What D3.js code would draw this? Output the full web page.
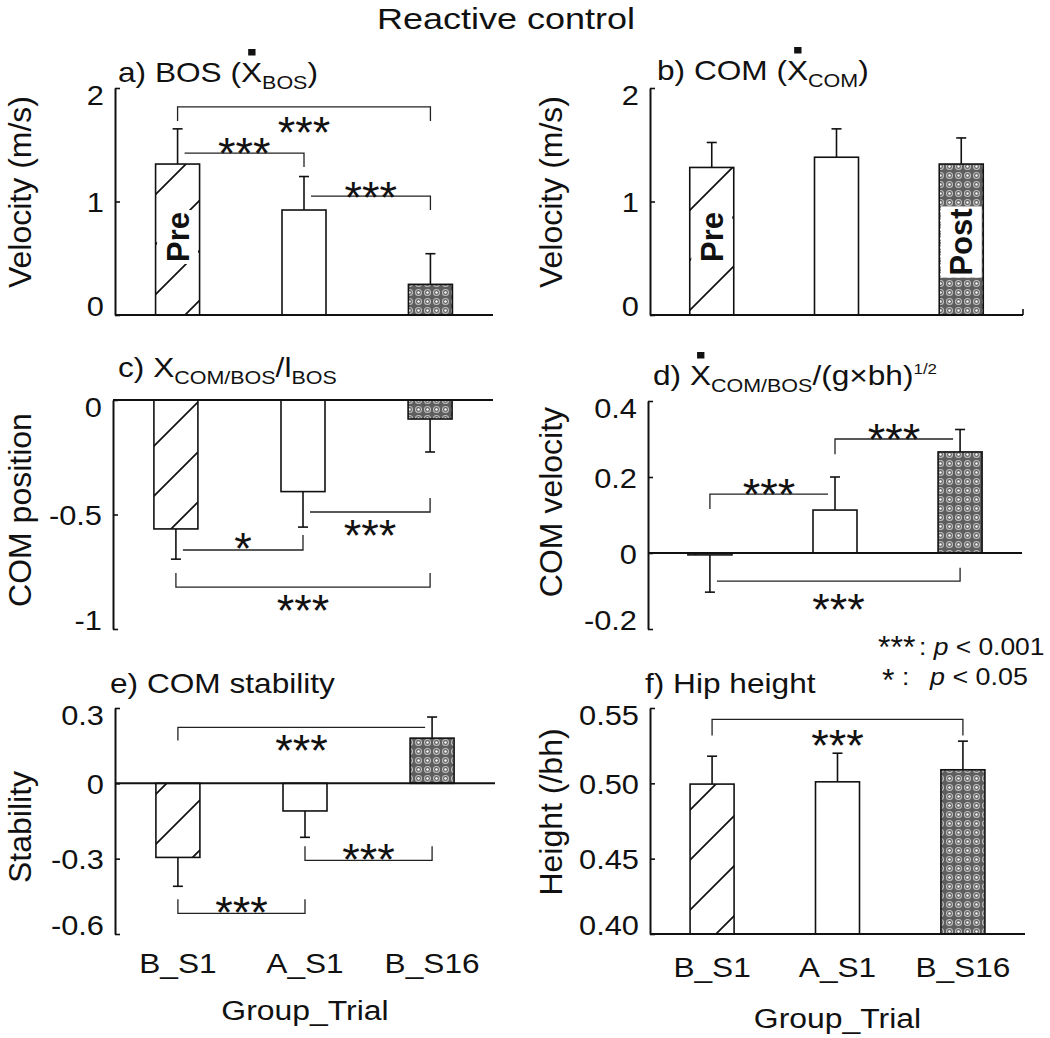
<!DOCTYPE html>
<html><head><meta charset="utf-8">
<script src="https://cdn.jsdelivr.net/npm/d3@7"></script>
<style>
body{margin:0;background:#fff}
svg{display:block}
text{font-family:"Liberation Sans",Arial,Helvetica,sans-serif;fill:#111}
</style>
</head><body>
<svg id="chart" width="1050" height="1038"></svg>
<script>
// ---------------- data ----------------
const categories = ["B_S1", "A_S1", "B_S16"];

const bosVelMean = [1.33, 0.925, 0.27];
const bosVelSD   = [0.31, 0.295, 0.27];
const comVelMean = [1.30, 1.39, 1.33];
const comVelSD   = [0.22, 0.25, 0.23];
const comPosMean = [-0.563, -0.40, -0.083];
const comPosSD   = [0.132, 0.155, 0.144];
const relVelMean = [-0.005, 0.113, 0.266];
const relVelSD   = [0.098, 0.087, 0.059];
const stabMean   = [-0.295, -0.11, 0.18];
const stabSD     = [0.115, 0.105, 0.084];
const hipMean    = [0.4995, 0.501, 0.509];
const hipSD      = [0.0185, 0.019, 0.019];

const ticksVel   = [0, 1, 2];
const ticksVelLb = ["0", "1", "2"];
const ticksPos   = [-1, -0.5, 0];
const ticksPosLb = ["-1", "-0.5", "0"];
const ticksRel   = [-0.2, 0, 0.2, 0.4];
const ticksRelLb = ["-0.2", "0", "0.2", "0.4"];
const ticksStab  = [-0.6, -0.3, 0, 0.3];
const ticksStabLb= ["-0.6", "-0.3", "0", "0.3"];
const ticksHip   = [0.40, 0.45, 0.50, 0.55];
const ticksHipLb = ["0.40", "0.45", "0.50", "0.55"];

// brackets: [fromIdx, toIdx, level, leftEnd, rightEnd, label, labelCenterValue]
const bracketsA = [[0, 2, 1.833, 1.71, 1.71, "***", 1.70],
                   [0, 1, 1.427, 1.427, 1.304, "***", 1.515],
                   [1, 2, 1.048, 1.048, 0.925, "***", 1.128]];
const bracketsB = [];
const bracketsC = [[0, 1, -0.655, -0.655, -0.59, "*", -0.603],
                   [1, 2, -0.489, -0.489, -0.428, "***", -0.546],
                   [0, 2, -0.817, -0.755, -0.755, "***", -0.873]];
const bracketsD = [[0, 1, 0.155, 0.116, 0.155, "***", 0.182],
                   [1, 2, 0.30, 0.26, 0.30, "***", 0.326],
                   [0, 2, -0.074, -0.074, -0.039, "***", -0.121]];
const bracketsE = [[0, 2, 0.223, 0.171, 0.223, "***", 0.171],
                   [1, 2, -0.307, -0.251, -0.251, "***", -0.263],
                   [0, 1, -0.518, -0.462, -0.462, "***", -0.474]];
const bracketsF = [[0, 2, 0.5424, 0.5318, 0.5318, "***", 0.5318]];

const barTextA = ["Pre", null, null];
const barTextB = ["Pre", null, "Post"];
const barTextPosA = [0.687, null, null];
const barTextPosB = [0.687, null, 0.643];

// ---------------- drawing ----------------
const svg = d3.select("#chart");
const defs = svg.append("defs");

const hatch = defs.append("pattern").attr("id", "hatch")
  .attr("patternUnits", "userSpaceOnUse").attr("width", 50).attr("height", 50);
hatch.append("rect").attr("width", 50).attr("height", 50).attr("fill", "#fff");
hatch.append("path").attr("d", "M0,50 L50,0 M-5,5 L5,-5 M45,55 L55,45")
  .attr("stroke", "#111").attr("stroke-width", 1.7);

const dots = defs.append("pattern").attr("id", "dots")
  .attr("patternUnits", "userSpaceOnUse").attr("width", 9).attr("height", 9);
dots.append("rect").attr("width", 9).attr("height", 9).attr("fill", "#5e5e5e");
dots.append("circle").attr("cx", 4.5).attr("cy", 4.5).attr("r", 3)
  .attr("fill", "none").attr("stroke", "#bdbdbd").attr("stroke-width", 1.1);
dots.append("circle").attr("cx", 4.5).attr("cy", 4.5).attr("r", 1.2).attr("fill", "#fff");

const barFills = ["url(#hatch)", "#fff", "url(#dots)"];

function richText(parent, x, y, segs, size, sx) {
  const g = parent.append("g").attr("transform", `translate(${x},${y}) scale(${sx},1)`);
  const t = g.append("text").attr("x", 0).attr("y", 0).attr("font-size", size);
  let shift = 0, idx = 0; const dotIdx = [];
  segs.forEach(s => {
    let target = s.sub ? 7 : (s.sup ? -11 : 0);
    const ts = t.append("tspan").text(s.t).attr("dy", target - shift);
    shift = target;
    if (s.sub || s.sup) ts.attr("font-size", s.sup ? 15 : 19);
    if (s.italic) ts.attr("font-style", "italic");
    if (s.dot) dotIdx.push(idx);
    idx += s.t.length;
  });
  const node = t.node();
  dotIdx.forEach(i => {
    const a = node.getStartPositionOfChar(i).x, b = node.getEndPositionOfChar(i).x;
    g.append("rect").attr("x", (a + b) / 2 - 3).attr("y", -33).attr("width", 6.5).attr("height", 6.5).attr("fill", "#111");
  });
  return g;
}

const panels = [
  {means: bosVelMean, sds: bosVelSD, domain: [0, 2], base: 0, x0: 115, x1: 493, yTop: 88, yBot: 315,
   ticks: ticksVel, tickLb: ticksVelLb, brackets: bracketsA, barText: barTextA, barTextPos: barTextPosA,
   title: [{t: "a) BOS ("}, {t: "X", dot: true}, {t: "BOS", sub: true}, {t: ")"}], tx: 118, ty: 82,
   ylab: "Velocity (m/s)", ylx: 31, yly: 192},
  {means: comVelMean, sds: comVelSD, domain: [0, 2], base: 0, x0: 650, x1: 1023, yTop: 88, yBot: 315,
   ticks: ticksVel, tickLb: ticksVelLb, brackets: bracketsB, barText: barTextB, barTextPos: barTextPosB,
   title: [{t: "b) COM ("}, {t: "X", dot: true}, {t: "COM", sub: true}, {t: ")"}], tx: 657, ty: 80,
   ylab: "Velocity (m/s)", ylx: 562, yly: 192, endTick: true},
  {means: comPosMean, sds: comPosSD, domain: [-1, 0], base: 0, x0: 113, x1: 493, yTop: 400, yBot: 629,
   ticks: ticksPos, tickLb: ticksPosLb, brackets: bracketsC,
   title: [{t: "c) X"}, {t: "COM/BOS", sub: true}, {t: "/l"}, {t: "BOS", sub: true}], tx: 118, ty: 377,
   ylab: "COM position", ylx: 31, yly: 510},
  {means: relVelMean, sds: relVelSD, domain: [-0.2, 0.4], base: 0, x0: 648, x1: 1022, yTop: 401, yBot: 629,
   ticks: ticksRel, tickLb: ticksRelLb, brackets: bracketsD,
   title: [{t: "d) "}, {t: "X", dot: true}, {t: "COM/BOS", sub: true}, {t: "/(g×bh)"}, {t: "1/2", sup: true}], tx: 653, ty: 385,
   ylab: "COM velocity", ylx: 562, yly: 502},
  {means: stabMean, sds: stabSD, domain: [-0.6, 0.3], base: 0, x0: 115, x1: 495, yTop: 708, yBot: 934,
   ticks: ticksStab, tickLb: ticksStabLb, brackets: bracketsE,
   title: [{t: "e) COM stability"}], tx: 110, ty: 693,
   ylab: "Stability", ylx: 31, yly: 827, xlabels: true, xly: 973, gly: 1020},
  {means: hipMean, sds: hipSD, domain: [0.40, 0.55], base: 0.40, x0: 650, x1: 1025, yTop: 708, yBot: 934,
   ticks: ticksHip, tickLb: ticksHipLb, brackets: bracketsF,
   title: [{t: "f) Hip height"}], tx: 645, ty: 693,
   ylab: "Height (/bh)", ylx: 562, yly: 812, xlabels: true, xly: 977, gly: 1028}
];

const BW = 44;

panels.forEach(p => {
  const g = svg.append("g");
  const y = d3.scaleLinear().domain(p.domain).range([p.yBot, p.yTop]);
  const x = d3.scalePoint().domain(categories).range([p.x0, p.x1]).padding(0.495);
  const cx = i => x(categories[i]);

  // bars
  g.selectAll("rect.bar").data(p.means).join("rect").attr("class", "bar")
    .attr("x", (d, i) => cx(i) - BW / 2)
    .attr("y", d => Math.min(y(d), y(p.base)))
    .attr("width", BW)
    .attr("height", d => Math.max(1.5, Math.abs(y(d) - y(p.base))))
    .attr("fill", (d, i) => barFills[i])
    .attr("stroke", "#111").attr("stroke-width", 1.6);

  // in-bar labels
  if (p.barText) {
    p.barText.forEach((t, i) => {
      if (!t) return;
      const lg = g.append("g").attr("transform", `translate(${cx(i)},${y(p.barTextPos[i])}) rotate(-90)`);
      const rect = lg.append("rect").attr("fill", "#fff");
      const tx = lg.append("text").attr("text-anchor", "middle").attr("y", 11)
        .attr("font-size", 31).attr("font-weight", "bold").text(t);
      const w = tx.node().getComputedTextLength();
      rect.attr("x", -w / 2 - 2).attr("width", w + 4).attr("y", -BW / 2 + 1.5).attr("height", BW - 3);
    });
  }

  // error bars
  const eb = g.append("g").attr("stroke", "#111").attr("stroke-width", 1.6);
  p.means.forEach((m, i) => {
    const dir = m < p.base ? -1 : 1;
    const e = m + dir * p.sds[i];
    eb.append("line").attr("x1", cx(i)).attr("x2", cx(i)).attr("y1", y(m)).attr("y2", y(e));
    eb.append("line").attr("x1", cx(i) - 5).attr("x2", cx(i) + 5).attr("y1", y(e)).attr("y2", y(e));
  });

  // baseline line
  g.append("line").attr("x1", p.x0).attr("x2", p.x1).attr("y1", y(p.base)).attr("y2", y(p.base))
    .attr("stroke", "#111").attr("stroke-width", 2);
  if (p.endTick) {
    g.append("line").attr("x1", p.x1).attr("x2", p.x1).attr("y1", y(p.base)).attr("y2", y(p.base) - 6)
      .attr("stroke", "#111").attr("stroke-width", 1.6);
  }

  // y axis
  const ax = g.append("g").attr("transform", `translate(${p.x0},0)`)
    .call(d3.axisLeft(y).tickValues(p.ticks).tickSizeInner(-5).tickSizeOuter(0).tickPadding(10)
      .tickFormat((d, i) => p.tickLb[i]));
  ax.attr("font-size", null).attr("font-family", null);
  ax.select(".domain").attr("stroke", "#111").attr("stroke-width", 2);
  ax.selectAll(".tick line").attr("stroke", "#111").attr("stroke-width", 1.6);
  ax.selectAll(".tick text").each(function (d) {
    let c = y(d);
    c = Math.max(c, p.yTop - 4 + 10);
    c = Math.min(c, p.yBot - 10);
    d3.select(this).attr("x", 0).attr("dy", null).attr("y", c - y(d) + 10)
      .attr("font-size", 28).attr("fill", "#111")
      .attr("transform", "translate(-11,0) scale(1.1,1)");
  });

  // brackets
  const bg = g.append("g");
  p.brackets.forEach(b => {
    const [f, t, lev, le, re, lab, ly] = b;
    const xl = cx(f) + (le === lev ? 7 : 0);
    const xr = cx(t) - (re === lev ? 7 : 0);
    bg.append("path").attr("d", `M${xl},${y(le)} L${xl},${y(lev)} L${xr},${y(lev)} L${xr},${y(re)}`)
      .attr("fill", "none").attr("stroke", "#222").attr("stroke-width", 1.3);
    bg.append("text").attr("x", (xl + xr) / 2).attr("y", y(ly) + 26)
      .attr("text-anchor", "middle").attr("font-size", 45).text(lab);
  });

  // title
  richText(svg, p.tx, p.ty, p.title, 28, 1.13);

  // y label
  svg.append("text").attr("transform", `translate(${p.ylx},${p.yly}) rotate(-90)`)
    .attr("text-anchor", "middle").attr("font-size", 32).text(p.ylab);

  // x labels
  if (p.xlabels) {
    categories.forEach((c, i) => {
      svg.append("g").attr("transform", `translate(${cx(i)},${p.xly}) scale(1.13,1)`)
        .append("text").attr("text-anchor", "middle").attr("font-size", 28).text(c);
    });
    svg.append("g").attr("transform", `translate(${(p.x0 + p.x1) / 2},${p.gly}) scale(1.14,1)`)
      .append("text").attr("text-anchor", "middle").attr("font-size", 28).text("Group_Trial");
  }
});

// main title
svg.append("g").attr("transform", "translate(506,29) scale(1.2,1)")
  .append("text").attr("text-anchor", "middle").attr("font-size", 30).text("Reactive control");

// significance legend
svg.append("text").attr("x", 878).attr("y", 658).attr("font-size", 32).text("***");
richText(svg, 919, 655, [{t: ": "}, {t: "p", italic: true}, {t: " < 0.001"}], 24, 1.1);
svg.append("text").attr("x", 882).attr("y", 691).attr("font-size", 32).text("*");
richText(svg, 902, 685, [{t: ":"}], 24, 1.1);
richText(svg, 930, 685, [{t: "p", italic: true}, {t: " < 0.05"}], 24, 1.12);
</script>
</body></html>
